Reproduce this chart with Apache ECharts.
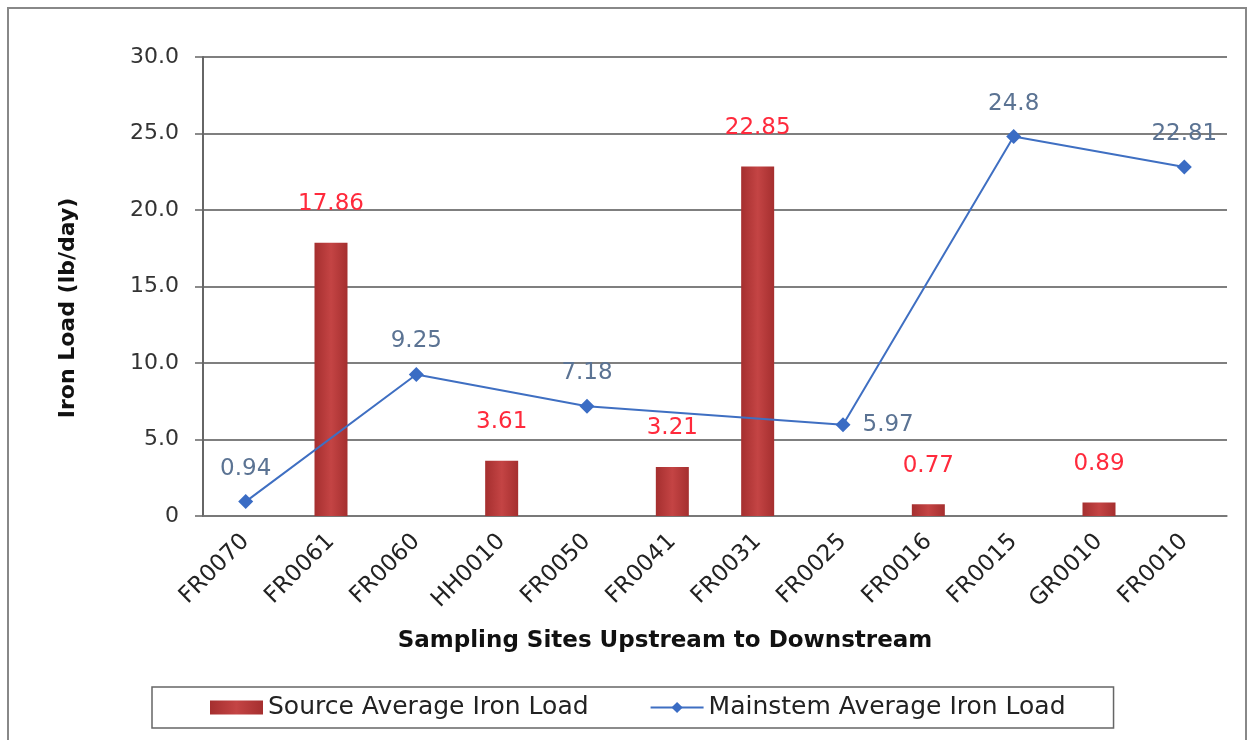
<!DOCTYPE html>
<html>
<head>
<meta charset="utf-8">
<script src="https://cdn.jsdelivr.net/npm/echarts@6/dist/echarts.min.js"></script>
<style>
html,body{margin:0;padding:0;background:#fff;}
#c{width:1252px;height:740px;}
</style>
</head>
<body>
<div id="c"></div>
<script>
const categories = ['FR0070','FR0061','FR0060','HH0010','FR0050','FR0041','FR0031','FR0025','FR0016','FR0015','GR0010','FR0010'];
const sourceLoad = [null, 17.86, null, 3.61, null, 3.21, 22.85, null, 0.77, null, 0.89, null];
const mainstemLoad = [0.94, null, 9.25, null, 7.18, null, null, 5.97, null, 24.8, null, 22.81];
const yTicks = [0, 5, 10, 15, 20, 25, 30];
const sourceName = 'Source Average Iron Load';
const mainstemName = 'Mainstem Average Iron Load';
const xTitle = 'Sampling Sites Upstream to Downstream';
const yTitle = 'Iron Load (lb/day)';

const FONT = '"DejaVu Sans", "Liberation Sans", Arial, sans-serif';
const chart = echarts.init(document.getElementById('c'), null, {renderer:'canvas'});

const mainData = mainstemLoad.map((v, i) => {
  if (v === null) return null;
  if (categories[i] === 'FR0025') return {value: v, label: {position: 'right', distance: 12}};
  return v;
});

chart.setOption({
  animation: false,
  backgroundColor: '#fff',
  grid: {left: 203, right: 25, top: 57, bottom: 224},
  legend: {
    left: 152, top: 687,
    itemWidth: 53, itemHeight: 14, itemGap: 61,
    padding: [8, 48, 8, 58],
    borderColor: '#666', borderWidth: 1.5,
    textStyle: {fontFamily: FONT, fontSize: 25, color: '#222'},
    data: [
      {name: sourceName, icon: 'rect'},
      {name: mainstemName}
    ]
  },
  xAxis: {
    type: 'category',
    data: categories,
    axisLine: {lineStyle: {color: '#777', width: 1.5}},
    axisTick: {show: false},
    axisLabel: {rotate: 45, fontFamily: FONT, fontSize: 23, color: '#222', margin: 22, interval: 0}
  },
  yAxis: {
    type: 'value', min: 0, max: 30, interval: 5,
    axisLine: {show: true, lineStyle: {color: '#666', width: 2}},
    axisTick: {show: true, length: 8, lineStyle: {color: '#666', width: 1.5}},
    axisLabel: {fontFamily: FONT, fontSize: 22, color: '#333', margin: 24,
      formatter: v => (yTicks.includes(v) ? (v === 0 ? '0' : v.toFixed(1)) : '')},
    splitLine: {lineStyle: {color: '#555', width: 1.5}}
  },
  graphic: [
    {type: 'rect', shape: {x: 8, y: 8, width: 1238, height: 745}, style: {fill: 'none', stroke: '#888', lineWidth: 2}, silent: true, z: -1},
    {type: 'text', x: 665, y: 641, style: {text: xTitle, font: 'bold 23px ' + FONT, fill: '#111', align: 'center', verticalAlign: 'middle'}},
    {type: 'text', x: 68, y: 308, rotation: Math.PI / 2, style: {text: yTitle, font: 'bold 22px ' + FONT, fill: '#111', align: 'center', verticalAlign: 'middle'}}
  ],
  series: [
    {
      name: sourceName, type: 'bar', data: sourceLoad, barWidth: 33, barGap: '-100%',
      itemStyle: {color: new echarts.graphic.LinearGradient(0, 0, 1, 0, [
        {offset: 0, color: '#a52f2f'}, {offset: 0.5, color: '#c44444'}, {offset: 1, color: '#a52f2f'}])},
      label: {show: true, position: 'top', distance: 27, fontFamily: FONT, fontSize: 23, color: '#ff2a3c'}
    },
    {
      name: mainstemName, type: 'line', data: mainData, connectNulls: true,
      symbol: 'diamond', symbolSize: 15,
      lineStyle: {color: '#3f6fc2', width: 2},
      itemStyle: {color: '#3a6cc4'},
      label: {show: true, position: 'top', distance: 14, fontFamily: FONT, fontSize: 23, color: '#5b7393'},
      z: 3
    }
  ]
});
</script>
</body>
</html>
